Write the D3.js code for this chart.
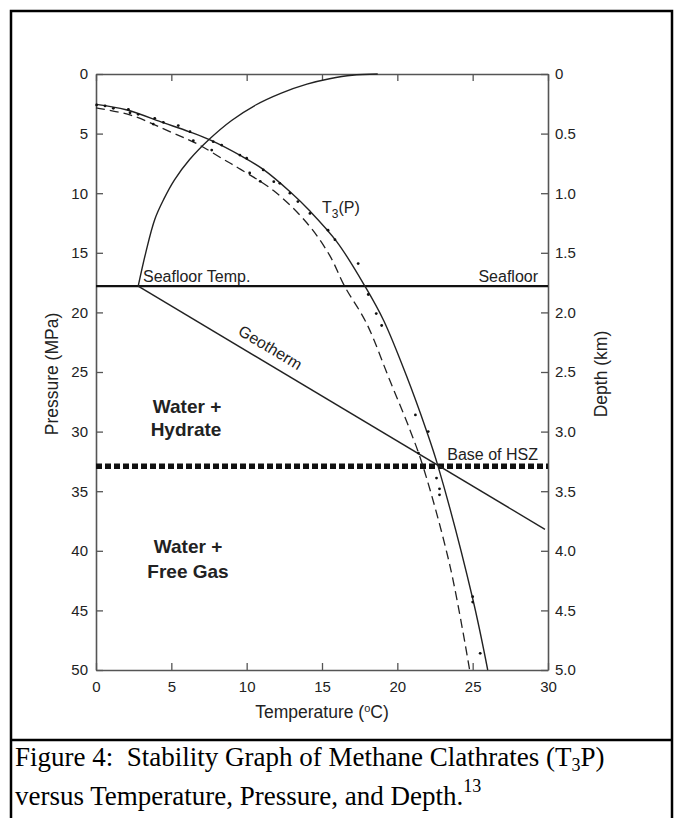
<!DOCTYPE html>
<html><head><meta charset="utf-8">
<script src="https://cdn.jsdelivr.net/npm/d3@7"></script>
<style>
html,body{margin:0;padding:0;background:#fff;}
svg{display:block;}
</style></head>
<body>
<svg id="chart" width="675" height="818"></svg>
<script>
// ---- data ----
const tempTicks = [0, 5, 10, 15, 20, 25, 30];
const pressureTicks = [0, 5, 10, 15, 20, 25, 30, 35, 40, 45, 50];
const depthTicks = [0, 0.5, 1, 1.5, 2, 2.5, 3, 3.5, 4, 4.5, 5];
const depthLabels = ["0", "0.5", "1.0", "1.5", "2.0", "2.5", "3.0", "3.5", "4.0", "4.5", "5.0"];

// ocean temperature profile (seafloor temp curve)
const sfTemp  = [2.8, 3.3, 3.9, 4.5, 5.2, 6.2, 7.5, 9.0, 10.6, 12.3, 14.0, 15.5, 17.0, 18.7];
const sfPress = [17.8, 15.0, 12.2, 10.5, 8.9, 7.2, 5.5, 3.9, 2.6, 1.6, 0.85, 0.4, 0.1, 0.0];

// T3(P) stability curve (solid)
const t3Temp  = [0, 2.0, 4.5, 6.2, 7.6, 9.6, 11.1, 12.9, 14.2, 16.0, 17.85, 19.1, 20.6, 21.9, 22.7, 25.0, 26.0];
const t3Press = [2.55, 3.0, 4.1, 4.85, 5.55, 6.85, 8.0, 9.9, 11.5, 14.1, 17.8, 20.7, 25.3, 29.8, 32.9, 44.0, 50];

// second stability curve (dashed)
const dashTemp  = [0, 2.3, 5.1, 6.7, 8.45, 9.6, 11.8, 14.0, 15.5, 16.5, 17.95, 19.5, 20.85, 21.7, 23.5, 24.8];
const dashPress = [2.85, 3.45, 4.95, 5.85, 7.15, 8.0, 9.8, 12.5, 15.2, 17.8, 20.9, 25.7, 29.9, 32.9, 41.3, 50];

// geotherm
const geoTemp  = [2.8, 29.8];
const geoPress = [17.8, 38.2];

// measured points
const dataTemp  = [0.04, 0.6, 1.15, 2.15, 2.26, 2.8, 3.8, 3.9, 4.47, 5.46, 6.24, 6.46, 7.68, 7.78, 8.34, 9.55, 10.0, 10.2, 10.9, 11.1, 11.8, 12.2, 12.87, 13.4, 14.2, 15.4, 15.86, 17.4, 18.07, 18.6, 18.96, 21.2, 22.05, 21.4, 22.6, 22.8, 22.8, 25.0, 25.0, 25.5];
const dataPress = [2.6, 2.68, 2.88, 2.96, 3.25, 3.38, 4.2, 3.72, 4.05, 4.33, 4.84, 5.6, 6.38, 5.68, 5.96, 6.8, 7.07, 8.3, 9.0, 8.05, 9.03, 9.17, 10.0, 10.7, 11.7, 13.1, 13.9, 15.9, 18.5, 20.1, 21.1, 28.6, 30.0, 31.8, 33.9, 34.8, 35.3, 43.85, 44.3, 48.6];

const seafloorPressure = 17.8;
const hszPressure = 32.9;

// ---- drawing ----
const svg = d3.select("#chart");
const font = "'Liberation Sans', Arial, Helvetica, sans-serif";
const ink = "#222";
const axisCol = "#555";

// outer frame
svg.append("rect").attr("x", 11).attr("y", 11).attr("width", 661).attr("height", 840)
  .attr("fill", "none").attr("stroke", "#000").attr("stroke-width", 2.5);
svg.append("line").attr("x1", 11).attr("x2", 672).attr("y1", 740).attr("y2", 740)
  .attr("stroke", "#000").attr("stroke-width", 2.5);

const x = d3.scaleLinear().domain([0, 30]).range([96, 548]);
const y = d3.scaleLinear().domain([0, 50]).range([74, 670]);
const yd = d3.scaleLinear().domain([0, 5]).range([74, 670]);

function styleAxis(g) {
  g.select(".domain").attr("stroke", axisCol).attr("stroke-width", 1.6);
  g.selectAll(".tick line").attr("stroke", axisCol).attr("stroke-width", 1.3);
  g.selectAll(".tick text").attr("fill", ink).style("font-family", font).style("font-size", "15px");
}

svg.append("g").attr("transform", `translate(0,${y(50)})`)
  .call(d3.axisBottom(x).tickValues(tempTicks).tickSizeInner(-7).tickSizeOuter(0).tickPadding(11).tickFormat(d3.format("d")))
  .call(styleAxis);
svg.append("g").attr("transform", `translate(0,${y(0)})`)
  .call(d3.axisTop(x).tickValues(tempTicks).tickSizeInner(-7).tickSizeOuter(0).tickFormat(""))
  .call(styleAxis);
svg.append("g").attr("transform", `translate(${x(0)},0)`)
  .call(d3.axisLeft(y).tickValues(pressureTicks).tickSizeInner(-7).tickSizeOuter(0).tickPadding(8).tickFormat(d3.format("d")))
  .call(styleAxis);
svg.append("g").attr("transform", `translate(${x(30)},0)`)
  .call(d3.axisRight(yd).tickValues(depthTicks).tickSizeInner(-7).tickSizeOuter(0).tickPadding(7)
    .tickFormat((d, i) => depthLabels[i]))
  .call(styleAxis);

// axis titles
svg.append("text").attr("x", 322).attr("y", 718).attr("text-anchor", "middle")
  .style("font-family", font).style("font-size", "17.5px").attr("fill", ink)
  .html("Temperature (<tspan dy='-6' font-size='11px'>o</tspan><tspan dy='6'>C)</tspan>");
svg.append("text").attr("transform", "translate(58,374) rotate(-90)").attr("text-anchor", "middle")
  .style("font-family", font).style("font-size", "17.5px").attr("fill", ink).text("Pressure (MPa)");
svg.append("text").attr("transform", "translate(607,374) rotate(-90)").attr("text-anchor", "middle")
  .style("font-family", font).style("font-size", "17.5px").attr("fill", ink).text("Depth (km)");

const line = (ts, ps) => d3.line().x((d, i) => x(ts[i])).y((d, i) => y(ps[i])).curve(d3.curveCatmullRom)(ts);

// seafloor line
svg.append("line").attr("x1", x(0)).attr("x2", x(30)).attr("y1", y(seafloorPressure)).attr("y2", y(seafloorPressure))
  .attr("stroke", "#111").attr("stroke-width", 2.2);
// base of HSZ
svg.append("line").attr("x1", x(0)).attr("x2", x(30)).attr("y1", y(hszPressure)).attr("y2", y(hszPressure))
  .attr("stroke", "#111").attr("stroke-width", 5.5).attr("stroke-dasharray", "6,3");

svg.append("path").attr("d", line(sfTemp, sfPress)).attr("fill", "none").attr("stroke", ink).attr("stroke-width", 1.4);
svg.append("path").attr("d", line(t3Temp, t3Press)).attr("fill", "none").attr("stroke", ink).attr("stroke-width", 1.4);
svg.append("path").attr("d", line(dashTemp, dashPress)).attr("fill", "none").attr("stroke", ink).attr("stroke-width", 1.3)
  .attr("stroke-dasharray", "9,5");
svg.append("path").attr("d", line(geoTemp, geoPress)).attr("fill", "none").attr("stroke", ink).attr("stroke-width", 1.4);

svg.append("g").selectAll("circle").data(dataTemp).join("circle")
  .attr("cx", (d) => x(d)).attr("cy", (d, i) => y(dataPress[i])).attr("r", 1.4).attr("fill", "#111");

// annotations
const ann = (tx, ty, s, opts = {}) => svg.append("text").attr("x", tx).attr("y", ty)
  .attr("text-anchor", opts.anchor || "start").style("font-family", font)
  .style("font-size", (opts.size || 16) + "px").style("font-weight", opts.weight || "normal").attr("fill", ink).text(s);

ann(143, 282, "Seafloor Temp.");
ann(538, 282, "Seafloor", { anchor: "end" });
ann(538, 460, "Base of HSZ", { anchor: "end" });
svg.append("text").attr("x", 322).attr("y", 213).style("font-family", font).style("font-size", "16px").attr("fill", ink)
  .html("T<tspan dy='5' font-size='12px'>3</tspan><tspan dy='-5'>(P)</tspan>");
const gAng = Math.atan2(y(geoPress[1]) - y(geoPress[0]), x(geoTemp[1]) - x(geoTemp[0])) * 180 / Math.PI;
svg.append("text").attr("transform", `translate(237,334) rotate(${gAng})`)
  .style("font-family", font).style("font-size", "16px").attr("fill", ink).text("Geotherm");

ann(187, 413, "Water +", { anchor: "middle", size: 19, weight: "bold" });
ann(186, 436, "Hydrate", { anchor: "middle", size: 19, weight: "bold" });
ann(188, 553, "Water +", { anchor: "middle", size: 19, weight: "bold" });
ann(188, 578, "Free Gas", { anchor: "middle", size: 19, weight: "bold" });

// caption
const serif = "'Liberation Serif', 'Times New Roman', Times, serif";
svg.append("text").attr("x", 15).attr("y", 766).style("font-family", serif).style("font-size", "27px").attr("fill", "#000")
  .html("Figure 4:&#160; Stability Graph of Methane Clathrates (T<tspan dy='5' font-size='18px'>3</tspan><tspan dy='-5'>P)</tspan>");
svg.append("text").attr("x", 15).attr("y", 805).style("font-family", serif).style("font-size", "27px").attr("fill", "#000")
  .html("versus Temperature, Pressure, and Depth.<tspan dy='-13' font-size='18px'>13</tspan>");
</script>
</body></html>
